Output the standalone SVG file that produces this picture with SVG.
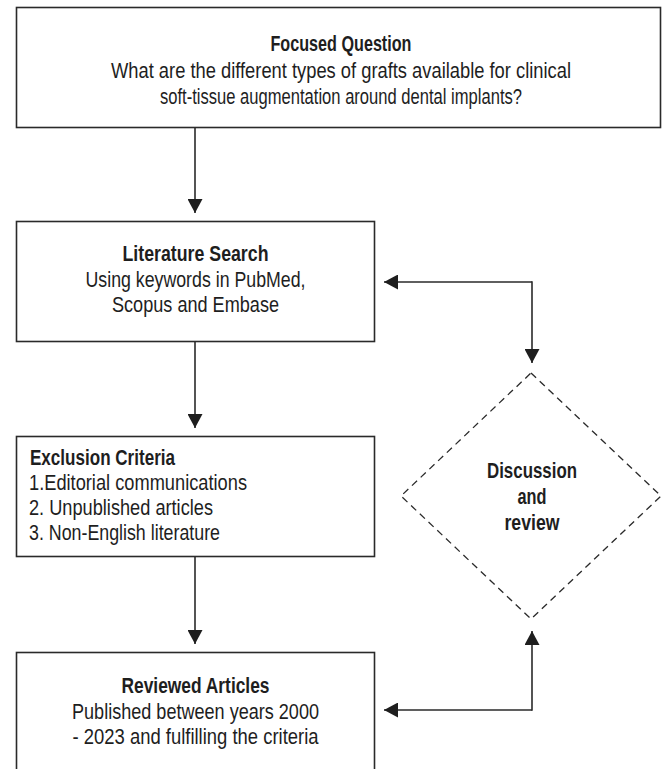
<svg xmlns="http://www.w3.org/2000/svg" width="662" height="769" viewBox="0 0 662 769">
<style>
.box{fill:#fff;stroke:#2a2a2a;stroke-width:1.6}
.dia{fill:#fff;stroke:#2a2a2a;stroke-width:1.3;stroke-dasharray:7 5}
.ln{fill:none;stroke:#2a2a2a;stroke-width:1.6}
text{font-family:"Liberation Sans Narrow","Arial Narrow","Liberation Sans",Arial,sans-serif;font-size:21.5px;fill:#1e1e1e}
.b{font-weight:bold}
.c{text-anchor:middle}
</style>
<defs>
<marker id="ah" viewBox="0 0 14 15" refX="14" refY="7.5" markerWidth="14" markerHeight="15" markerUnits="userSpaceOnUse" orient="auto">
<path d="M0,0 L14,7.5 L0,15 Z" fill="#1e1e1e"/>
</marker>
</defs>
<rect width="662" height="769" fill="#fff"/>
<g id="connectors">
<line class="ln" x1="195" y1="128" x2="195" y2="213" marker-end="url(#ah)"/>
<line class="ln" x1="195" y1="342" x2="195" y2="428" marker-end="url(#ah)"/>
<line class="ln" x1="195" y1="557" x2="195" y2="644" marker-end="url(#ah)"/>
<path class="ln" d="M532,282 L384,282" marker-end="url(#ah)"/>
<path class="ln" d="M532,281.2 L532,363" marker-end="url(#ah)"/>
<path class="ln" d="M532,710 L384,710" marker-end="url(#ah)"/>
<path class="ln" d="M532,710.8 L532,631" marker-end="url(#ah)"/>
</g>
<g id="focused-question">
<rect class="box" x="16.5" y="7.5" width="644" height="120"/>
<text class="b c" x="341" y="51" textLength="141" lengthAdjust="spacingAndGlyphs">Focused Question</text>
<text class="c" x="341" y="78" textLength="460" lengthAdjust="spacingAndGlyphs">What are the different types of grafts available for clinical</text>
<text class="c" x="341" y="104" textLength="362" lengthAdjust="spacingAndGlyphs">soft-tissue augmentation around dental implants?</text>
</g>
<g id="literature-search">
<rect class="box" x="16.5" y="221.5" width="358" height="120"/>
<text class="b c" x="195.5" y="261" textLength="146" lengthAdjust="spacingAndGlyphs">Literature Search</text>
<text class="c" x="195.5" y="287" textLength="220" lengthAdjust="spacingAndGlyphs">Using keywords in PubMed,</text>
<text class="c" x="195.5" y="312" textLength="167" lengthAdjust="spacingAndGlyphs">Scopus and Embase</text>
</g>
<g id="exclusion-criteria">
<rect class="box" x="16.5" y="436.5" width="358" height="120"/>
<text class="b" x="30" y="465" textLength="145" lengthAdjust="spacingAndGlyphs">Exclusion Criteria</text>
<text x="29" y="490" textLength="218" lengthAdjust="spacingAndGlyphs">1.Editorial communications</text>
<text x="29" y="515" textLength="184" lengthAdjust="spacingAndGlyphs">2. Unpublished articles</text>
<text x="29" y="540" textLength="191" lengthAdjust="spacingAndGlyphs">3. Non-English literature</text>
</g>
<g id="reviewed-articles">
<rect class="box" x="16.5" y="652.5" width="358" height="130"/>
<text class="b c" x="195.5" y="693" textLength="148" lengthAdjust="spacingAndGlyphs">Reviewed Articles</text>
<text class="c" x="195.5" y="719" textLength="247" lengthAdjust="spacingAndGlyphs">Published between years 2000</text>
<text class="c" x="195.5" y="744" textLength="246" lengthAdjust="spacingAndGlyphs">- 2023 and fulfilling the criteria</text>
</g>
<g id="discussion-review">
<polygon class="dia" points="531,373 661,496 531,619 401,496"/>
<text class="b c" x="532" y="478" textLength="90" lengthAdjust="spacingAndGlyphs">Discussion</text>
<text class="b c" x="532" y="504" textLength="29" lengthAdjust="spacingAndGlyphs">and</text>
<text class="b c" x="532" y="530" textLength="55" lengthAdjust="spacingAndGlyphs">review</text>
</g>
</svg>
